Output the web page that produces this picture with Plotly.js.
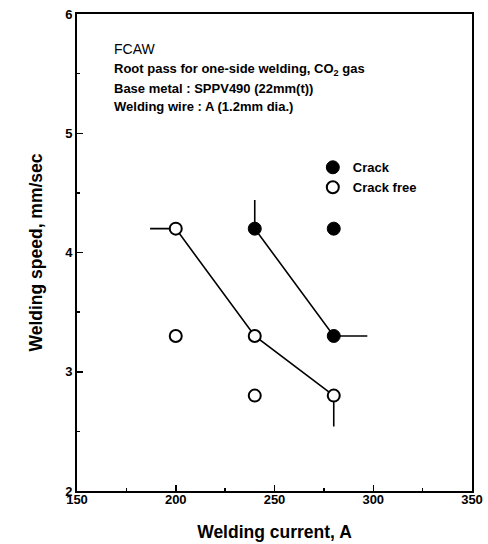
<!DOCTYPE html>
<html>
<head>
<meta charset="utf-8">
<script src="https://cdn.plot.ly/plotly-3.0.1.min.js"></script>
<style>html,body{margin:0;padding:0;background:#fff;}#chart{width:488px;height:544px;}</style>
</head>
<body>
<div id="chart"></div>
<script>
// Data points
const crackX = [240, 280, 280];
const crackY = [4.2, 4.2, 3.3];
const freeX = [200, 200, 240, 240, 280];
const freeY = [4.2, 3.3, 3.3, 2.8, 2.8];
// Boundary lines
const freeLineX = [187, 200, 240, 280, 280];
const freeLineY = [4.2, 4.2, 3.3, 2.8, 2.54];
const crackLineX = [240, 240, 280, 297];
const crackLineY = [4.44, 4.2, 3.3, 3.3];
const xTicks = [150, 200, 250, 300, 350];
const yTicks = [2, 3, 4, 5, 6];
const notes = ["FCAW", "Root pass for one-side welding, CO<sub>2</sub> gas", "Base metal : SPPV490 (22mm(t))", "Welding wire : A (1.2mm dia.)"];

const font = "Liberation Sans, Arial, sans-serif";
const traces = [
  {x: freeLineX, y: freeLineY, mode: 'lines', line: {color: '#000', width: 1.6}, showlegend: false, hoverinfo: 'skip'},
  {x: crackLineX, y: crackLineY, mode: 'lines', line: {color: '#000', width: 1.6}, showlegend: false, hoverinfo: 'skip'},
  {x: crackX, y: crackY, mode: 'markers', name: 'Crack',
   marker: {symbol: 'circle', size: 13, color: '#000', line: {color: '#000', width: 1}}},
  {x: freeX, y: freeY, mode: 'markers', name: 'Crack free',
   marker: {symbol: 'circle', size: 12, color: '#fff', line: {color: '#000', width: 2}}}
];

const annotations = notes.map((t, i) => ({
  xref: 'paper', yref: 'paper', x: 0.088, y: [0.926, 0.883, 0.844, 0.807][i],
  xanchor: 'left', yanchor: 'middle', showarrow: false, text: t,
  font: {family: font, size: i === 0 ? 14 : 13, color: '#000', weight: i === 0 ? 'normal' : 'bold'}
}));

const layout = {
  width: 488, height: 544,
  margin: {l: 77, r: 16, t: 14, b: 53},
  paper_bgcolor: '#fff', plot_bgcolor: '#fff',
  font: {family: font, color: '#000'},
  xaxis: {
    range: [150, 350], tickvals: xTicks, ticktext: xTicks.map(String),
    ticks: 'inside', ticklen: 6, tickwidth: 1.5, tickcolor: '#000',
    showline: true, linecolor: '#000', linewidth: 2, mirror: true,
    showgrid: false, zeroline: false, ticklabelstandoff: -5,
    minor: {dtick: 25, tick0: 150, ticks: 'inside', ticklen: 3, tickcolor: '#000', showgrid: false},
    tickfont: {family: font, size: 13, color: '#000', weight: 'bold'},
    title: {text: 'Welding current, A', font: {family: font, size: 17.5, color: '#000', weight: 'bold'}, standoff: 20}
  },
  yaxis: {
    range: [2, 6], tickvals: yTicks, ticktext: yTicks.map(String),
    ticks: 'inside', ticklen: 6, tickwidth: 1.5, tickcolor: '#000',
    showline: true, linecolor: '#000', linewidth: 2, mirror: true,
    showgrid: false, zeroline: false,
    minor: {dtick: 0.5, tick0: 2, ticks: 'inside', ticklen: 3, tickcolor: '#000', showgrid: false},
    tickfont: {family: font, size: 13, color: '#000', weight: 'bold'},
    title: {text: 'Welding speed, mm/sec', font: {family: font, size: 17.5, color: '#000', weight: 'bold'}, standoff: 18}
  },
  showlegend: true,
  legend: {x: 0.597, y: 0.71, xanchor: 'left', yanchor: 'top', bgcolor: 'rgba(0,0,0,0)',
           font: {family: font, size: 13, color: '#000', weight: 'bold'}, itemwidth: 30, tracegroupgap: 0},
  annotations: annotations
};

Plotly.newPlot('chart', traces, layout, {staticPlot: true});
</script>
</body>
</html>
